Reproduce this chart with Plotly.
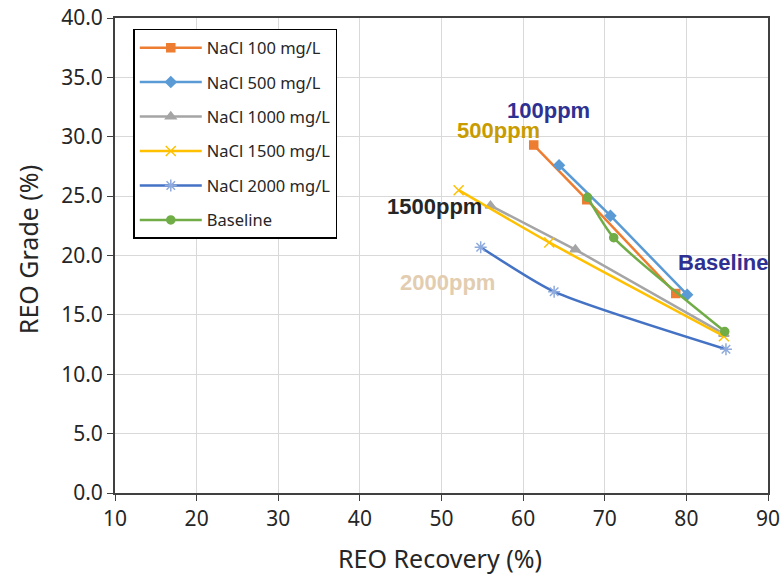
import plotly.graph_objects as go

names = ["NaCl 100 mg/L", "NaCl 500 mg/L", "NaCl 1000 mg/L", "NaCl 1500 mg/L", "NaCl 2000 mg/L", "Baseline"]
x100 = [61.3, 67.8, 78.7]
y100 = [29.3, 24.7, 16.8]
x500 = [64.4, 70.7, 80.1]
y500 = [27.6, 23.35, 16.7]
x1000 = [56.0, 66.4, 84.6]
y1000 = [24.2, 20.5, 13.4]
x1500 = [52.1, 63.2, 84.6]
y1500 = [25.5, 21.1, 13.2]
x2000 = [54.8, 63.8, 84.85]
y2000 = [20.7, 16.95, 12.1]
xbase = [67.9, 71.1, 84.7]
ybase = [24.9, 21.5, 13.6]

labels = ["100ppm", "500ppm", "1500ppm", "2000ppm", "Baseline"]
label_x = [63.1, 57.0, 49.1, 50.7, 84.5]
label_y = [32.25, 30.55, 24.1, 17.7, 19.4]
label_colors = ["#2E3192", "#C89B00", "#262626", "#E2CDB0", "#2E3192"]

line_colors = ["#ED7D31", "#5B9BD5", "#A5A5A5", "#FFC000", "#4472C4", "#70AD47"]
marker_colors = ["#ED7D31", "#5B9BD5", "#A5A5A5", "#FFC000", "#8FAADC", "#70AD47"]
symbols = ["square", "diamond", "triangle-up", "x-thin-open", "asterisk-open", "circle"]
sizes = [8, 8, 9, 10, 10, 8]
shapes = ["linear", "linear", "linear", "spline", "spline", "spline"]

xs = [x100, x500, x1000, x1500, x2000, xbase]
ys = [y100, y500, y1000, y1500, y2000, ybase]

fig = go.Figure()
for i in range(6):
    fig.add_trace(go.Scatter(
        x=xs[i], y=ys[i], name=names[i], mode="lines+markers",
        legendgroup=names[i],
        line=dict(color=line_colors[i], width=2.5, shape=shapes[i], smoothing=0.6),
        marker=dict(symbol=symbols[i], color=marker_colors[i], size=sizes[i],
                    line=dict(color=marker_colors[i], width=1.5)),
    ))

for t, lx, ly, c in zip(labels, label_x, label_y, label_colors):
    fig.add_annotation(x=lx, y=ly, text="<b>" + t + "</b>", showarrow=False,
                       font=dict(family="Liberation Sans, Arial", size=22, color=c))

axis_common = dict(showgrid=True, gridcolor="#D9D9D9", gridwidth=1.3,
                   showline=True, linecolor="#404040", linewidth=2, mirror=True,
                   ticks="outside", ticklen=6, tickcolor="#404040", zeroline=False,
                   automargin=False,
                   tickfont=dict(family="Noto Sans, Open Sans", size=21, color="#262626"))

fig.update_xaxes(range=[10, 90], dtick=10, tick0=10, **axis_common)
fig.update_yaxes(range=[0, 40], dtick=5, tickformat=".1f", **axis_common)

title_font = dict(family="Noto Sans, Open Sans", size=25, color="#262626")
fig.add_annotation(text="REO Recovery (%)", xref="paper", yref="paper", x=0.497, y=-0.137,
                   xanchor="center", yanchor="middle", showarrow=False, font=title_font)
fig.add_annotation(text="REO Grade (%)", xref="paper", yref="paper", x=-0.132, y=0.513,
                   xanchor="center", yanchor="middle", showarrow=False, textangle=-90, font=title_font)

fig.update_layout(
    width=784, height=577,
    margin=dict(l=115, r=16, t=18, b=84),
    plot_bgcolor="white", paper_bgcolor="white",
    legend=dict(x=0.028, y=0.977, xanchor="left", yanchor="top",
                bgcolor="white", bordercolor="#000000", borderwidth=1.5,
                font=dict(family="Noto Sans, Open Sans", size=16.5, color="#262626"),
                traceorder="grouped", tracegroupgap=10, itemwidth=62),
    showlegend=True,
)

fig.write_html("out.html", config={"displayModeBar": False},
               post_script="document.body.style.margin='0';document.body.style.padding='0';")
